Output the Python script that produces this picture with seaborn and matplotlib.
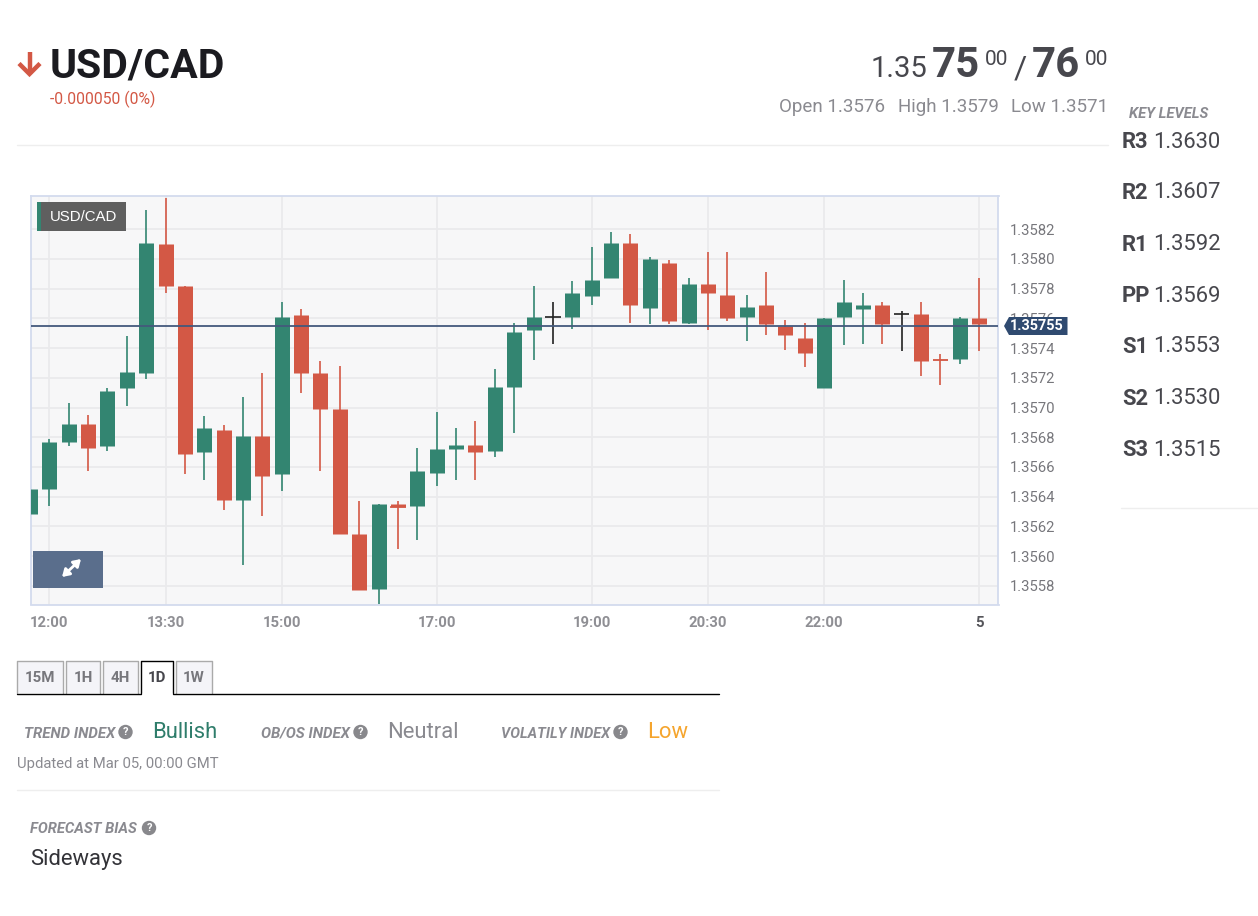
import matplotlib
matplotlib.use("Agg")
import matplotlib.pyplot as plt
from matplotlib.patches import Rectangle, Polygon, Circle
import numpy as np
import pandas as pd
import seaborn as sns

# 15 minute candles
opens = [1.35628, 1.35645, 1.35677, 1.35689, 1.35674, 1.35713, 1.35723, 1.35810, 1.35782, 1.35670,
         1.35685, 1.35638, 1.35681, 1.35655, 1.35762, 1.35723, 1.35699, 1.35615, 1.35578, 1.35635,
         1.35634, 1.35656, 1.35672, 1.35675, 1.35671, 1.35714, 1.35752, 1.35761, 1.35761, 1.35775,
         1.35787, 1.35811, 1.35767, 1.35797, 1.35757, 1.35783, 1.35776, 1.35761, 1.35769, 1.35755,
         1.35747, 1.35713, 1.35761, 1.35766, 1.35769, 1.35763, 1.35763, 1.35733, 1.35733, 1.35760]
closes = [1.35645, 1.35677, 1.35689, 1.35673, 1.35711, 1.35724, 1.35811, 1.35782, 1.35669, 1.35686,
          1.35638, 1.35681, 1.35654, 1.35761, 1.35723, 1.35699, 1.35615, 1.35577, 1.35635, 1.35633,
          1.35657, 1.35672, 1.35675, 1.35670, 1.35714, 1.35751, 1.35761, 1.35761, 1.35777, 1.35786,
          1.35811, 1.35769, 1.35800, 1.35758, 1.35783, 1.35777, 1.35760, 1.35768, 1.35756, 1.35749,
          1.35737, 1.35760, 1.35771, 1.35769, 1.35756, 1.35763, 1.35731, 1.35732, 1.35760, 1.35756]
highs = [1.35660, 1.35679, 1.35703, 1.35695, 1.35713, 1.35748, 1.35833, 1.35841, 1.35782, 1.35694,
         1.35688, 1.35707, 1.35723, 1.35771, 1.35766, 1.35731, 1.35728, 1.35637, 1.35635, 1.35637,
         1.35673, 1.35697, 1.35686, 1.35691, 1.35726, 1.35757, 1.35782, 1.35771, 1.35785, 1.35808,
         1.35818, 1.35817, 1.35801, 1.35799, 1.35787, 1.35805, 1.35805, 1.35776, 1.35791, 1.35759,
         1.35757, 1.35760, 1.35786, 1.35777, 1.35771, 1.35765, 1.35771, 1.35736, 1.35761, 1.35787]
lows = [1.35622, 1.35634, 1.35674, 1.35657, 1.35671, 1.35701, 1.35719, 1.35777, 1.35655, 1.35651,
        1.35631, 1.35594, 1.35627, 1.35644, 1.35710, 1.35657, 1.35615, 1.35577, 1.35568, 1.35605,
        1.35611, 1.35647, 1.35651, 1.35651, 1.35667, 1.35683, 1.35732, 1.35743, 1.35753, 1.35769,
        1.35787, 1.35757, 1.35756, 1.35756, 1.35756, 1.35752, 1.35758, 1.35745, 1.35749, 1.35739,
        1.35727, 1.35713, 1.35742, 1.35743, 1.35743, 1.35738, 1.35721, 1.35715, 1.35729, 1.35738]
last_price = 1.35755

price_ticks = [1.3558, 1.3560, 1.3562, 1.3564, 1.3566, 1.3568, 1.3570, 1.3572, 1.3574, 1.3576, 1.3578, 1.3580, 1.3582]
time_ticks = [1, 7, 13, 21, 29, 35, 41, 49]
time_labels = ["12:00", "13:30", "15:00", "17:00", "19:00", "20:30", "22:00", "5"]

level_names = ["R3", "R2", "R1", "PP", "S1", "S2", "S3"]
level_values = ["1.3630", "1.3607", "1.3592", "1.3569", "1.3553", "1.3530", "1.3515"]
tab_names = ["15M", "1H", "4H", "1D", "1W"]

GREEN = "#338571"
RED = "#d35845"
GREY = "#8a8a90"
DARK = "#47474d"

sns.set_theme(style="whitegrid")
plt.rcParams["font.family"] = ["Roboto", "DejaVu Sans"]

fig = plt.figure(figsize=(12.58, 9.16), dpi=100, facecolor="white")
W, H = 1258, 916
left, right, top, bottom = 30.5, 998.5, 196, 604.5
ax = fig.add_axes([left / W, 1 - bottom / H, (right - left) / W, (bottom - top) / H])

# candles go in long form: two rows per wick and per body
rows_w, rows_b = [], []
for i in range(len(opens)):
    o, c = opens[i], closes[i]
    d = "up" if c > o else ("down" if c < o else "flat")
    rows_w += [(i, lows[i], d), (i, highs[i], d)]
    rows_b += [(i, o, d), (i, c, d)]
wicks = pd.DataFrame(rows_w, columns=["idx", "price", "dir"])
bodies = pd.DataFrame(rows_b, columns=["idx", "price", "dir"])
pal = {"up": GREEN, "down": RED, "flat": "#222222"}

sns.lineplot(data=wicks, x="idx", y="price", hue="dir", units="idx", estimator=None, sort=False,
             palette=pal, linewidth=1.2, legend=False, ax=ax, solid_capstyle="butt", zorder=3)
sns.lineplot(data=bodies, x="idx", y="price", hue="dir", units="idx", estimator=None, sort=False,
             palette=pal, linewidth=10.8, legend=False, ax=ax, solid_capstyle="butt", zorder=4)

# dojis have almost no body, so they get a small dash
for i in range(len(opens)):
    if abs(opens[i] - closes[i]) < 0.00002:
        col = pal["down"] if closes[i] < opens[i] else pal["flat"]
        ax.hlines(closes[i], i - 0.39, i + 0.39, color=col, lw=1.2, zorder=4)

ax.axhline(last_price, color="#44597c", lw=1.3, zorder=5)

ax.set_xlim(0.03, 50.0)
ax.set_ylim(1.355674, 1.358424)
ax.set_facecolor("#f7f7f8")
ax.set_axisbelow(True)
ax.grid(True, color="#eaeaec", lw=1.3)
ax.set_xlabel("")
ax.set_ylabel("")
ax.set_yticks(price_ticks)
ax.set_yticklabels([f"{p:.4f}" for p in price_ticks])
ax.yaxis.tick_right()
ax.set_xticks(time_ticks)
ax.set_xticklabels(time_labels)
ax.tick_params(axis="y", length=0, pad=8, labelsize=10.7, labelcolor="#77777c")
ax.tick_params(axis="x", length=0, pad=8.5, labelsize=10.7, labelcolor="#8f8f94")
for lab in ax.get_xticklabels():
    lab.set_fontweight("bold")
ax.get_xticklabels()[-1].set_color("#55555a")
for s in ax.spines.values():
    s.set_color("#d3dbee")
    s.set_linewidth(1.3)

# page furniture, in pixel coordinates
pg = fig.add_axes([0, 0, 1, 1], zorder=10)
pg.set_xlim(0, W)
pg.set_ylim(H, 0)
pg.axis("off")


def txt(x, y, s, px=14, color=DARK, weight="normal", style="normal", ha="left", va="center", **kw):
    return pg.text(x, y, s, fontsize=px * 0.72, color=color, fontweight=weight, fontstyle=style,
                   ha=ha, va=va, **kw)


def help_icon(x, y):
    pg.add_patch(Circle((x, y), 7.2, color="#88888c", lw=0))
    txt(x, y + 0.3, "?", px=11, color="white", weight="bold", ha="center")


# header
pg.plot([29.5, 29.5], [52, 74], color=RED, lw=3.2, solid_capstyle="butt")
pg.plot([19, 29.5, 40], [63.5, 74, 63.5], color=RED, lw=3.2, solid_capstyle="butt", solid_joinstyle="miter")
txt(50, 78, "USD/CAD", px=41, color="#1b1b20", weight="bold", va="baseline")
txt(50, 99.5, "-0.000050 (0%)", px=15.8, color=RED)

txt(870.5, 77, "1.35", px=29.2, va="baseline")
txt(932, 77, "75", px=42, weight="bold", va="baseline")
txt(985, 65, "00", px=21, va="baseline")
txt(1014, 77, "/", px=32, va="baseline")
txt(1032, 77, "76", px=42, weight="bold", va="baseline")
txt(1085, 65, "00", px=21, va="baseline")
txt(779, 107, "Open 1.3576", px=18.8, color=GREY)
txt(898, 107, "High 1.3579", px=18.8, color=GREY)
txt(1011, 107, "Low 1.3571", px=18.8, color=GREY)
pg.plot([17, 1108], [144.5, 144.5], color="#eeeeee", lw=1)

# key levels on the right
txt(1129, 114, "KEY LEVELS", px=14.7, color=GREY, weight="bold", style="italic")
level_y = [142, 193, 245, 296, 347, 399, 450]
for name, val, y in zip(level_names, level_values, level_y):
    txt(1122, y, name, px=22, weight="bold")
    txt(1153.5, y, val, px=22)
pg.plot([1121, 1257], [507.5, 507.5], color="#eeeeee", lw=1)

# chart overlays
pg.add_patch(Rectangle((37, 202), 89, 29, color="#5f5f5f", lw=0))
pg.add_patch(Rectangle((37, 202), 4, 29, color=GREEN, lw=0))
txt(83.5, 217, "USD/CAD", px=15, color="white", ha="center", family="Liberation Sans")
pg.add_patch(Rectangle((33, 551), 70, 37, color="#5a6e8c", lw=0))
pg.annotate("", xy=(81, 559), xytext=(62, 577),
            arrowprops=dict(arrowstyle="<|-|>,head_length=0.35,head_width=0.22", color="white", lw=2, shrinkA=0, shrinkB=0))
pg.add_patch(Polygon([(1004, 326), (1009, 317), (1067.5, 317), (1067.5, 335), (1009, 335)], color="#2f4a70", lw=0))
txt(1037, 326.5, "1.35755", px=14.5, color="white", weight="bold", ha="center")

# timeframe tabs
tab_x = [(17, 63), (66, 100), (103, 138), (141, 173), (176, 212)]
for name, (x0, x1) in zip(tab_names, tab_x):
    active = name == "1D"
    pg.add_patch(Rectangle((x0, 661), x1 - x0, 32, facecolor="white" if active else "#f4f4f8", lw=0))
    pg.plot([x0, x0, x1, x1], [693, 661, 661, 693], color="black" if active else "#aaaaaa", lw=1)
    txt((x0 + x1) / 2, 677.5, name, px=15, color=DARK if active else "#77777c", weight="bold", ha="center")
pg.plot([17, 141], [693.5, 693.5], color="black", lw=1)
pg.plot([173, 719], [693.5, 693.5], color="black", lw=1)

# indices
txt(24, 734, "TREND INDEX", px=15, color=GREY, weight="bold", style="italic")
help_icon(125.5, 732)
txt(152, 732, "Bullish", px=22, color="#2f7d6b")
txt(261, 734, "OB/OS INDEX", px=15, color=GREY, weight="bold", style="italic")
help_icon(360.5, 732)
txt(387, 732, "Neutral", px=22, color=GREY)
txt(501, 734, "VOLATILY INDEX", px=14.5, color=GREY, weight="bold", style="italic")
help_icon(620.5, 732)
txt(647, 732, "Low", px=22, color="#f5a52e")
txt(17, 764, "Updated at Mar 05, 00:00 GMT", px=14.9, color=GREY)
pg.plot([17, 719], [789.5, 789.5], color="#eeeeee", lw=1)
txt(30, 829, "FORECAST BIAS", px=14.7, color=GREY, weight="bold", style="italic")
help_icon(149, 828)
txt(30, 859, "Sideways", px=22, color="#333338")

fig.savefig("out.png", dpi=100)
